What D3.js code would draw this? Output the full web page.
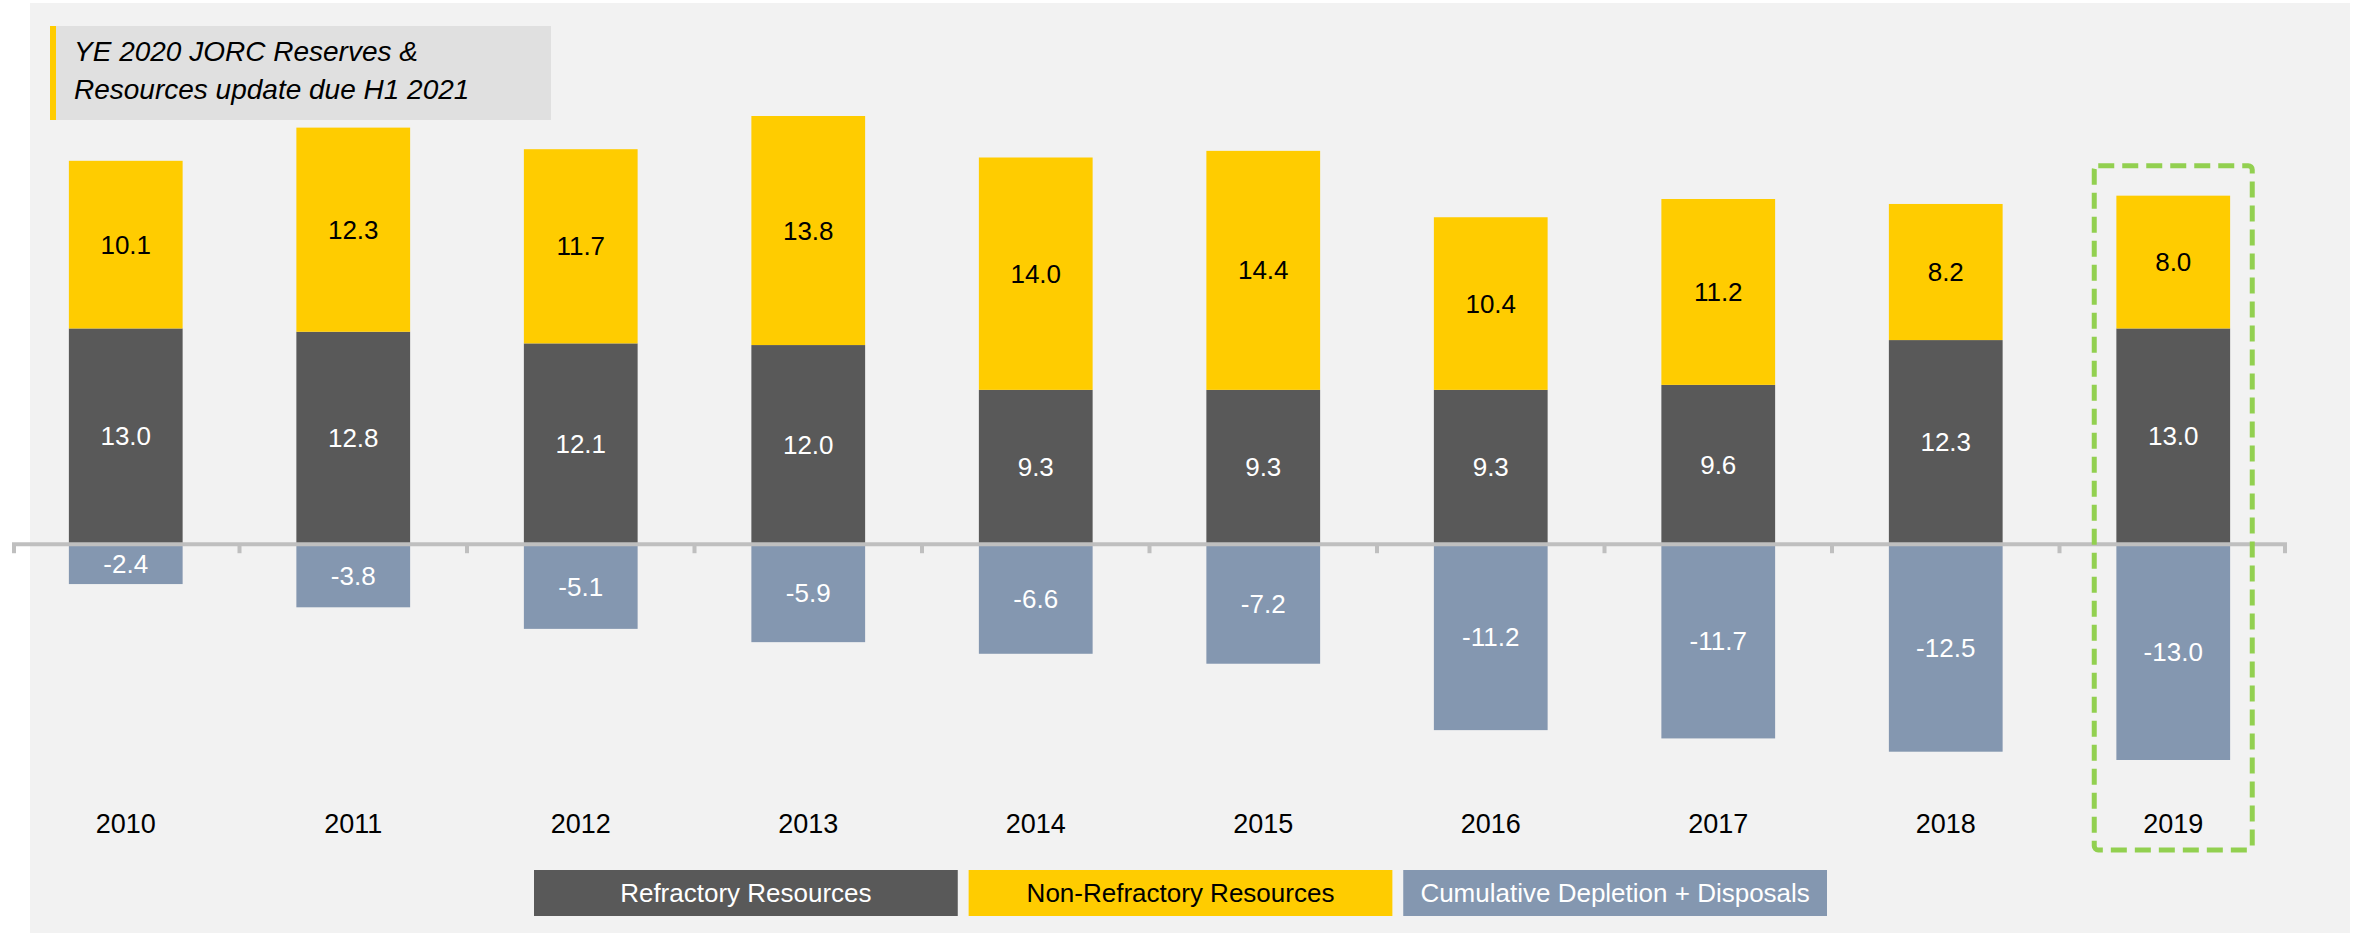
<!DOCTYPE html>
<html>
  <head>
    <title>JORC Resources</title>
    <style>
      body,
      html {
        margin: 0;
        padding: 0;
        background: #ffffff;
      }
      svg text {
        font-family: 'Liberation Sans', Arial, sans-serif;
      }
    </style>
  </head>
  <body>
    <svg id="svg" width="2359" height="936"></svg>

    <script src="https://cdn.jsdelivr.net/npm/d3@7"></script>
    <script>
      const years = ['2010', '2011', '2012', '2013', '2014', '2015', '2016', '2017', '2018', '2019'];
      const refractory = [13.0, 12.8, 12.1, 12.0, 9.3, 9.3, 9.3, 9.6, 12.3, 13.0];
      const nonRefractory = [10.1, 12.3, 11.7, 13.8, 14.0, 14.4, 10.4, 11.2, 8.2, 8.0];
      const depletion = [-2.4, -3.8, -5.1, -5.9, -6.6, -7.2, -11.2, -11.7, -12.5, -13.0];
      const seriesNames = ['Refractory Resources', 'Non-Refractory Resources', 'Cumulative Depletion + Disposals'];
      const titleLines = ['YE 2020 JORC Reserves &', 'Resources update due H1 2021'];
      const highlightYear = '2019';

      const colors = {
        'Refractory Resources': '#595959',
        'Non-Refractory Resources': '#FFCC00',
        'Cumulative Depletion + Disposals': '#8497B0'
      };
      const textColors = {
        'Refractory Resources': '#ffffff',
        'Non-Refractory Resources': '#000000',
        'Cumulative Depletion + Disposals': '#ffffff'
      };

      const svg = d3.select('#svg');

      // panel background
      svg.append('rect')
        .attr('x', 30).attr('y', 3)
        .attr('width', 2320).attr('height', 930)
        .attr('fill', '#F2F2F2');

      const xScale = d3.scaleBand()
        .domain(years)
        .range([12, 2287])
        .paddingInner(0.5)
        .paddingOuter(0.25);
      const bw = xScale.bandwidth();

      const yScale = d3.scaleLinear()
        .domain([-13.0, 25.8])
        .range([760, 116]);

      // build segments
      const segs = [];
      years.forEach((yr, i) => {
        segs.push({ year: yr, s: seriesNames[0], y0: 0, y1: refractory[i], v: refractory[i] });
        segs.push({ year: yr, s: seriesNames[1], y0: refractory[i], y1: refractory[i] + nonRefractory[i], v: nonRefractory[i] });
        segs.push({ year: yr, s: seriesNames[2], y0: depletion[i], y1: 0, v: depletion[i] });
      });

      svg.append('g')
        .selectAll('rect')
        .data(segs)
        .join('rect')
        .attr('x', (d) => xScale(d.year))
        .attr('y', (d) => yScale(Math.max(d.y0, d.y1)))
        .attr('width', bw)
        .attr('height', (d) => Math.abs(yScale(d.y0) - yScale(d.y1)))
        .attr('fill', (d) => colors[d.s]);

      svg.append('g')
        .selectAll('text')
        .data(segs)
        .join('text')
        .attr('x', (d) => xScale(d.year) + bw / 2)
        .attr('y', (d) => (yScale(d.y0) + yScale(d.y1)) / 2)
        .attr('dy', '0.35em')
        .attr('text-anchor', 'middle')
        .attr('font-size', 26)
        .attr('fill', (d) => textColors[d.s])
        .text((d) => d.v.toFixed(1));

      // zero axis with ticks at category boundaries
      const [r0, r1] = xScale.range();
      const step = xScale.step();
      const axis = svg.append('g');
      axis.append('line')
        .attr('x1', r0).attr('x2', r1)
        .attr('y1', yScale(0)).attr('y2', yScale(0))
        .attr('stroke', '#BFBFBF')
        .attr('stroke-width', 4);
      axis.selectAll('line.tick')
        .data(d3.range(years.length + 1))
        .join('line')
        .attr('class', 'tick')
        .attr('x1', (i) => Math.min(Math.max(r0 + i * step, r0 + 2), r1 - 2))
        .attr('x2', (i) => Math.min(Math.max(r0 + i * step, r0 + 2), r1 - 2))
        .attr('y1', yScale(0))
        .attr('y2', yScale(0) + 9)
        .attr('stroke', '#BFBFBF')
        .attr('stroke-width', 4);

      // year labels
      svg.append('g')
        .selectAll('text')
        .data(years)
        .join('text')
        .attr('x', (d) => xScale(d) + bw / 2)
        .attr('y', 833)
        .attr('text-anchor', 'middle')
        .attr('font-size', 27)
        .attr('fill', '#000000')
        .text((d) => d);

      // highlight box
      const hi = years.indexOf(highlightYear);
      const hx = xScale(highlightYear) + bw / 2;
      svg.append('rect')
        .attr('x', hx - 79)
        .attr('y', yScale(refractory[hi] + nonRefractory[hi]) - 30)
        .attr('width', 158)
        .attr('height', 850 - (yScale(refractory[hi] + nonRefractory[hi]) - 30))
        .attr('rx', 4)
        .attr('fill', 'none')
        .attr('stroke', '#92D050')
        .attr('stroke-width', 5)
        .attr('stroke-dasharray', '16 8');

      // legend
      const legendScale = d3.scaleBand()
        .domain(seriesNames)
        .range([534, 1827])
        .paddingInner(0.025);
      const legend = svg.append('g')
        .selectAll('g')
        .data(seriesNames)
        .join('g');
      legend.append('rect')
        .attr('x', (d) => legendScale(d))
        .attr('y', 870)
        .attr('width', legendScale.bandwidth())
        .attr('height', 46)
        .attr('fill', (d) => colors[d]);
      legend.append('text')
        .attr('x', (d) => legendScale(d) + legendScale.bandwidth() / 2)
        .attr('y', 893)
        .attr('dy', '0.35em')
        .attr('text-anchor', 'middle')
        .attr('font-size', 26)
        .attr('fill', (d) => textColors[d])
        .text((d) => d);

      // title box
      svg.append('rect')
        .attr('x', 53).attr('y', 26)
        .attr('width', 498).attr('height', 94)
        .attr('fill', '#E0E0E0');
      svg.append('rect')
        .attr('x', 50).attr('y', 26)
        .attr('width', 6).attr('height', 94)
        .attr('fill', '#FFCC00');
      svg.append('g')
        .selectAll('text')
        .data(titleLines)
        .join('text')
        .attr('x', 74)
        .attr('y', (d, i) => 61 + i * 38)
        .attr('font-size', 28)
        .attr('font-style', 'italic')
        .attr('fill', '#000000')
        .text((d) => d);
    </script>
  </body>
</html>
